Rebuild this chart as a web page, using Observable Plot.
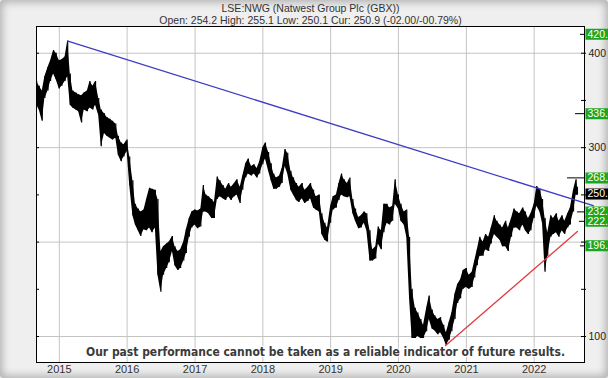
<!DOCTYPE html>
<html><head><meta charset="utf-8">
<script src="https://cdn.jsdelivr.net/npm/d3@7"></script>
<script src="https://cdn.jsdelivr.net/npm/@observablehq/plot@0.6"></script>
<style>
html,body{margin:0;padding:0;overflow:hidden;background:#e6e6e6;}
#chart{position:relative;width:608px;height:378px;overflow:hidden;
  background:#efefef;box-shadow:inset 0 0 9px 2px rgba(0,0,0,0.28);border-radius:4px;}
#chart svg{display:block;}
</style></head><body><div id="chart"></div>
<script>
const title = "LSE:NWG (Natwest Group Plc (GBX))";
const subtitle = "Open: 254.2 High: 255.1 Low: 250.1 Cur: 250.9 (-02.00/-00.79%)";
const disclaimer = "Our past performance cannot be taken as a reliable indicator of future results.";

// half-monthly price ranges
const periods = [
"2014-09-01","2014-09-15","2014-10-01","2014-10-15","2014-11-01","2014-11-15","2014-12-01","2014-12-15",
"2015-01-01","2015-01-15","2015-02-01","2015-02-15","2015-03-01","2015-03-15","2015-04-01","2015-04-15",
"2015-05-01","2015-05-15","2015-06-01","2015-06-15","2015-07-01","2015-07-15","2015-08-01","2015-08-15",
"2015-09-01","2015-09-15","2015-10-01","2015-10-15","2015-11-01","2015-11-15","2015-12-01","2015-12-15",
"2016-01-01","2016-01-15","2016-02-01","2016-02-15","2016-03-01","2016-03-15","2016-04-01","2016-04-15",
"2016-05-01","2016-05-15","2016-06-01","2016-06-15","2016-07-01","2016-07-15","2016-08-01","2016-08-15",
"2016-09-01","2016-09-15","2016-10-01","2016-10-15","2016-11-01","2016-11-15","2016-12-01","2016-12-15",
"2017-01-01","2017-01-15","2017-02-01","2017-02-15","2017-03-01","2017-03-15","2017-04-01","2017-04-15",
"2017-05-01","2017-05-15","2017-06-01","2017-06-15","2017-07-01","2017-07-15","2017-08-01","2017-08-15",
"2017-09-01","2017-09-15","2017-10-01","2017-10-15","2017-11-01","2017-11-15","2017-12-01","2017-12-15",
"2018-01-01","2018-01-15","2018-02-01","2018-02-15","2018-03-01","2018-03-15","2018-04-01","2018-04-15",
"2018-05-01","2018-05-15","2018-06-01","2018-06-15","2018-07-01","2018-07-15","2018-08-01","2018-08-15",
"2018-09-01","2018-09-15","2018-10-01","2018-10-15","2018-11-01","2018-11-15","2018-12-01","2018-12-15",
"2019-01-01","2019-01-15","2019-02-01","2019-02-15","2019-03-01","2019-03-15","2019-04-01","2019-04-15",
"2019-05-01","2019-05-15","2019-06-01","2019-06-15","2019-07-01","2019-07-15","2019-08-01","2019-08-15",
"2019-09-01","2019-09-15","2019-10-01","2019-10-15","2019-11-01","2019-11-15","2019-12-01","2019-12-15",
"2020-01-01","2020-01-15","2020-02-01","2020-02-15","2020-03-01","2020-03-15","2020-04-01","2020-04-15",
"2020-05-01","2020-05-15","2020-06-01","2020-06-15","2020-07-01","2020-07-15","2020-08-01","2020-08-15",
"2020-09-01","2020-09-15","2020-10-01","2020-10-15","2020-11-01","2020-11-15","2020-12-01","2020-12-15",
"2021-01-01","2021-01-15","2021-02-01","2021-02-15","2021-03-01","2021-03-15","2021-04-01","2021-04-15",
"2021-05-01","2021-05-15","2021-06-01","2021-06-15","2021-07-01","2021-07-15","2021-08-01","2021-08-15",
"2021-09-01","2021-09-15","2021-10-01","2021-10-15","2021-11-01","2021-11-15","2021-12-01","2021-12-15",
"2022-01-01","2022-01-15","2022-02-01","2022-02-15","2022-03-01","2022-03-15","2022-04-01","2022-04-15",
"2022-05-01","2022-05-15","2022-06-01","2022-06-15","2022-07-01","2022-07-15","2022-08-01","2022-08-15",
"2022-08-22"];
const highs = [
370,365,360,375,385,392,403,400, 392,393,396,413,378,360,358,356,
355,358,360,370,365,370,352,340, 336,332,330,328,325,312,305,303,
308,290,265,240,235,232,234,245, 257,256,255,245,190,195,198,200,
206,195,190,192,200,213,225,232, 234,233,235,260,250,248,245,242,
269,265,260,256,262,258,262,266, 258,270,283,288,280,282,278,285,
300,305,295,283,272,268,270,278, 298,294,275,268,262,258,262,255,
258,262,255,248,250,230,220,215, 238,248,250,262,272,266,262,268,
245,235,226,228,232,230,212,192, 195,216,212,240,240,236,238,266,
250,240,232,234,205,150,130,125, 118,112,130,143,128,122,118,120,
112,104,115,125,145,155,160,170, 172,165,168,180,192,205,200,208,
205,215,228,222,218,215,222,215, 225,235,232,230,236,232,225,230,
240,259,256,245,225,210,228,225, 230,222,228,222,230,236,255,266,
258];
const lows = [
345,340,328,352,360,370,378,372, 362,365,370,375,345,342,340,338,
326,340,338,342,340,345,334,301, 315,312,310,308,310,292,285,290,
296,260,228,218,212,206,213,212, 215,210,215,165,147,165,172,178,
190,175,170,172,180,188,205,215, 218,214,216,232,232,230,225,225,
245,248,246,244,248,244,248,250, 241,255,268,272,270,272,268,272,
282,288,275,265,256,256,258,262, 280,272,255,250,244,242,246,241,
243,246,236,234,232,208,202,200, 220,234,236,244,250,248,247,248,
230,222,214,215,220,212,180,180, 182,198,192,210,220,218,222,240,
235,222,218,205,140,98,98,100, 98,98,105,118,108,106,102,104,
98,90.5,96,105,118,135,140,150, 152,150,152,162,175,185,185,192,
190,198,208,205,202,195,195,190, 205,215,215,212,218,212,208,212,
225,238,232,220,168,185,205,208, 210,205,212,208,215,218,232,250,
249.5];

const yearTicks = ["2015","2016","2017","2018","2019","2020","2021","2022"];
const priceGrid = [100, 200, 300, 400];
const priceTickLabels = [100, 300, 400];   // 200 is hidden behind the 196 marker
const minorPriceTicks = [100, 150, 200, 250, 300, 350, 400];

const levelValues = [420, 336, 268, 250.9, 232, 222, 196];
const levelLabels = ["420.", "336.", "268.", "250.", "232.", "222.", "196."];
const levelIsCurrent = [false, false, false, true, false, false, false];

const resistanceDates = ["2015-02-16", "2022-11-15"];
const resistanceValues = [412.7, 238.5];
const supportDates = ["2020-09-11", "2022-08-22"];
const supportValues = [90.5, 211.2];

// ---------- layout ----------
const W = 608, H = 378, mL = 36, mR = 24, mT = 26, mB = 16;
const xDomain = [new Date("2014-08-31"), new Date("2022-09-29")];
const yDomain = [72.5, 428.3];
const sx = d3.scaleUtc(xDomain, [mL, W - mR]);
const markerLen = [4, 9, 17, 0, 7, 5, 4];
const green = "#1ea51e";
const font = "Liberation Sans, Arial, sans-serif";

const bars = periods.map((d, i) => ({date: new Date(d), high: highs[i], low: lows[i]}));
const resistance = resistanceDates.map((d, i) => ({date: new Date(d), v: resistanceValues[i]}));
const support = supportDates.map((d, i) => ({date: new Date(d), v: supportValues[i]}));
const years = yearTicks.map(y => new Date(y + "-01-01"));

const levelMarks = levelValues.flatMap((v, i) => {
  const m = [];
  if (markerLen[i] > 0) m.push(Plot.ruleY([v], {y: d => d, x1: () => sx.invert(W - mR - markerLen[i]), x2: () => xDomain[1], stroke: "black", strokeWidth: 1}));
  m.push(Plot.ruleY([v], {y: d => d, x1: () => sx.invert(W - mR + 1.5), x2: () => sx.invert(W + 6), stroke: levelIsCurrent[i] ? "black" : green, strokeWidth: 11}));
  m.push(Plot.text([v], {y: d => d, x: () => xDomain[1], dx: 3, text: () => levelLabels[i], fill: "white", textAnchor: "start", fontSize: 10.5, lineAnchor: "middle"}));
  return m;
});

const chart = Plot.plot({
  width: W, height: H,
  marginLeft: mL, marginRight: mR, marginTop: mT, marginBottom: mB,
  style: {background: "transparent", fontFamily: font, fontSize: "11px", color: "#333", overflow: "visible"},
  x: {type: "utc", domain: xDomain},
  y: {type: "linear", domain: yDomain},
  marks: [
    Plot.frame({fill: "white", stroke: "none"}),
    Plot.gridX(years, {stroke: "#c4c4c4", strokeOpacity: 1}),
    Plot.gridY(priceGrid, {stroke: "#c4c4c4", strokeOpacity: 1}),
    Plot.ruleY(minorPriceTicks, {y: d => d, x1: () => xDomain[0], x2: () => sx.invert(mL + 3), stroke: "black"}),
    Plot.ruleY(minorPriceTicks, {y: d => d, x1: () => sx.invert(W - mR - 3), x2: () => sx.invert(W - mR + 2), stroke: "black"}),
    Plot.areaY(bars, {x: "date", y1: "low", y2: "high", fill: "black"}),
    Plot.ruleX(bars, {x: "date", y1: "low", y2: "high", stroke: "black", strokeWidth: 1.2}),
    Plot.line(resistance, {x: "date", y: "v", stroke: "#3c3cc4", strokeWidth: 1.3}),
    Plot.line(support, {x: "date", y: "v", stroke: "#e23c3c", strokeWidth: 1.3}),
    Plot.axisX({ticks: years, tickFormat: d3.utcFormat("%Y"), tickSize: 0, tickPadding: 3, fontSize: 11, fill: "#333"}),
    Plot.axisY({anchor: "right", ticks: priceTickLabels, tickSize: 0, tickPadding: 4, fontSize: 10.5, fill: "#222"}),
    ...levelMarks,
    Plot.frame({stroke: "black", strokeWidth: 1}),
    Plot.text([disclaimer], {frameAnchor: "bottom", dx: 15, dy: -11, lineAnchor: "middle", fontSize: 12.5, fontWeight: "bold",
      fontFamily: "Liberation Sans Narrow, DejaVu Sans Condensed, Arial Narrow, sans-serif", fill: "#3a3a3a", stroke: "white", strokeWidth: 2}),
    Plot.text([title], {frameAnchor: "top", dy: -18, lineAnchor: "middle", fontSize: 10.5, fill: "#333"}),
    Plot.text([subtitle], {frameAnchor: "top", dy: -5.5, lineAnchor: "middle", fontSize: 10.5, fill: "#333"})
  ]
});

chart.querySelectorAll("text").forEach(t => {
  if (t.textContent === disclaimer) { t.setAttribute("textLength", 479); t.setAttribute("lengthAdjust", "spacingAndGlyphs"); }
});
document.getElementById("chart").appendChild(chart);
</script></body></html>
